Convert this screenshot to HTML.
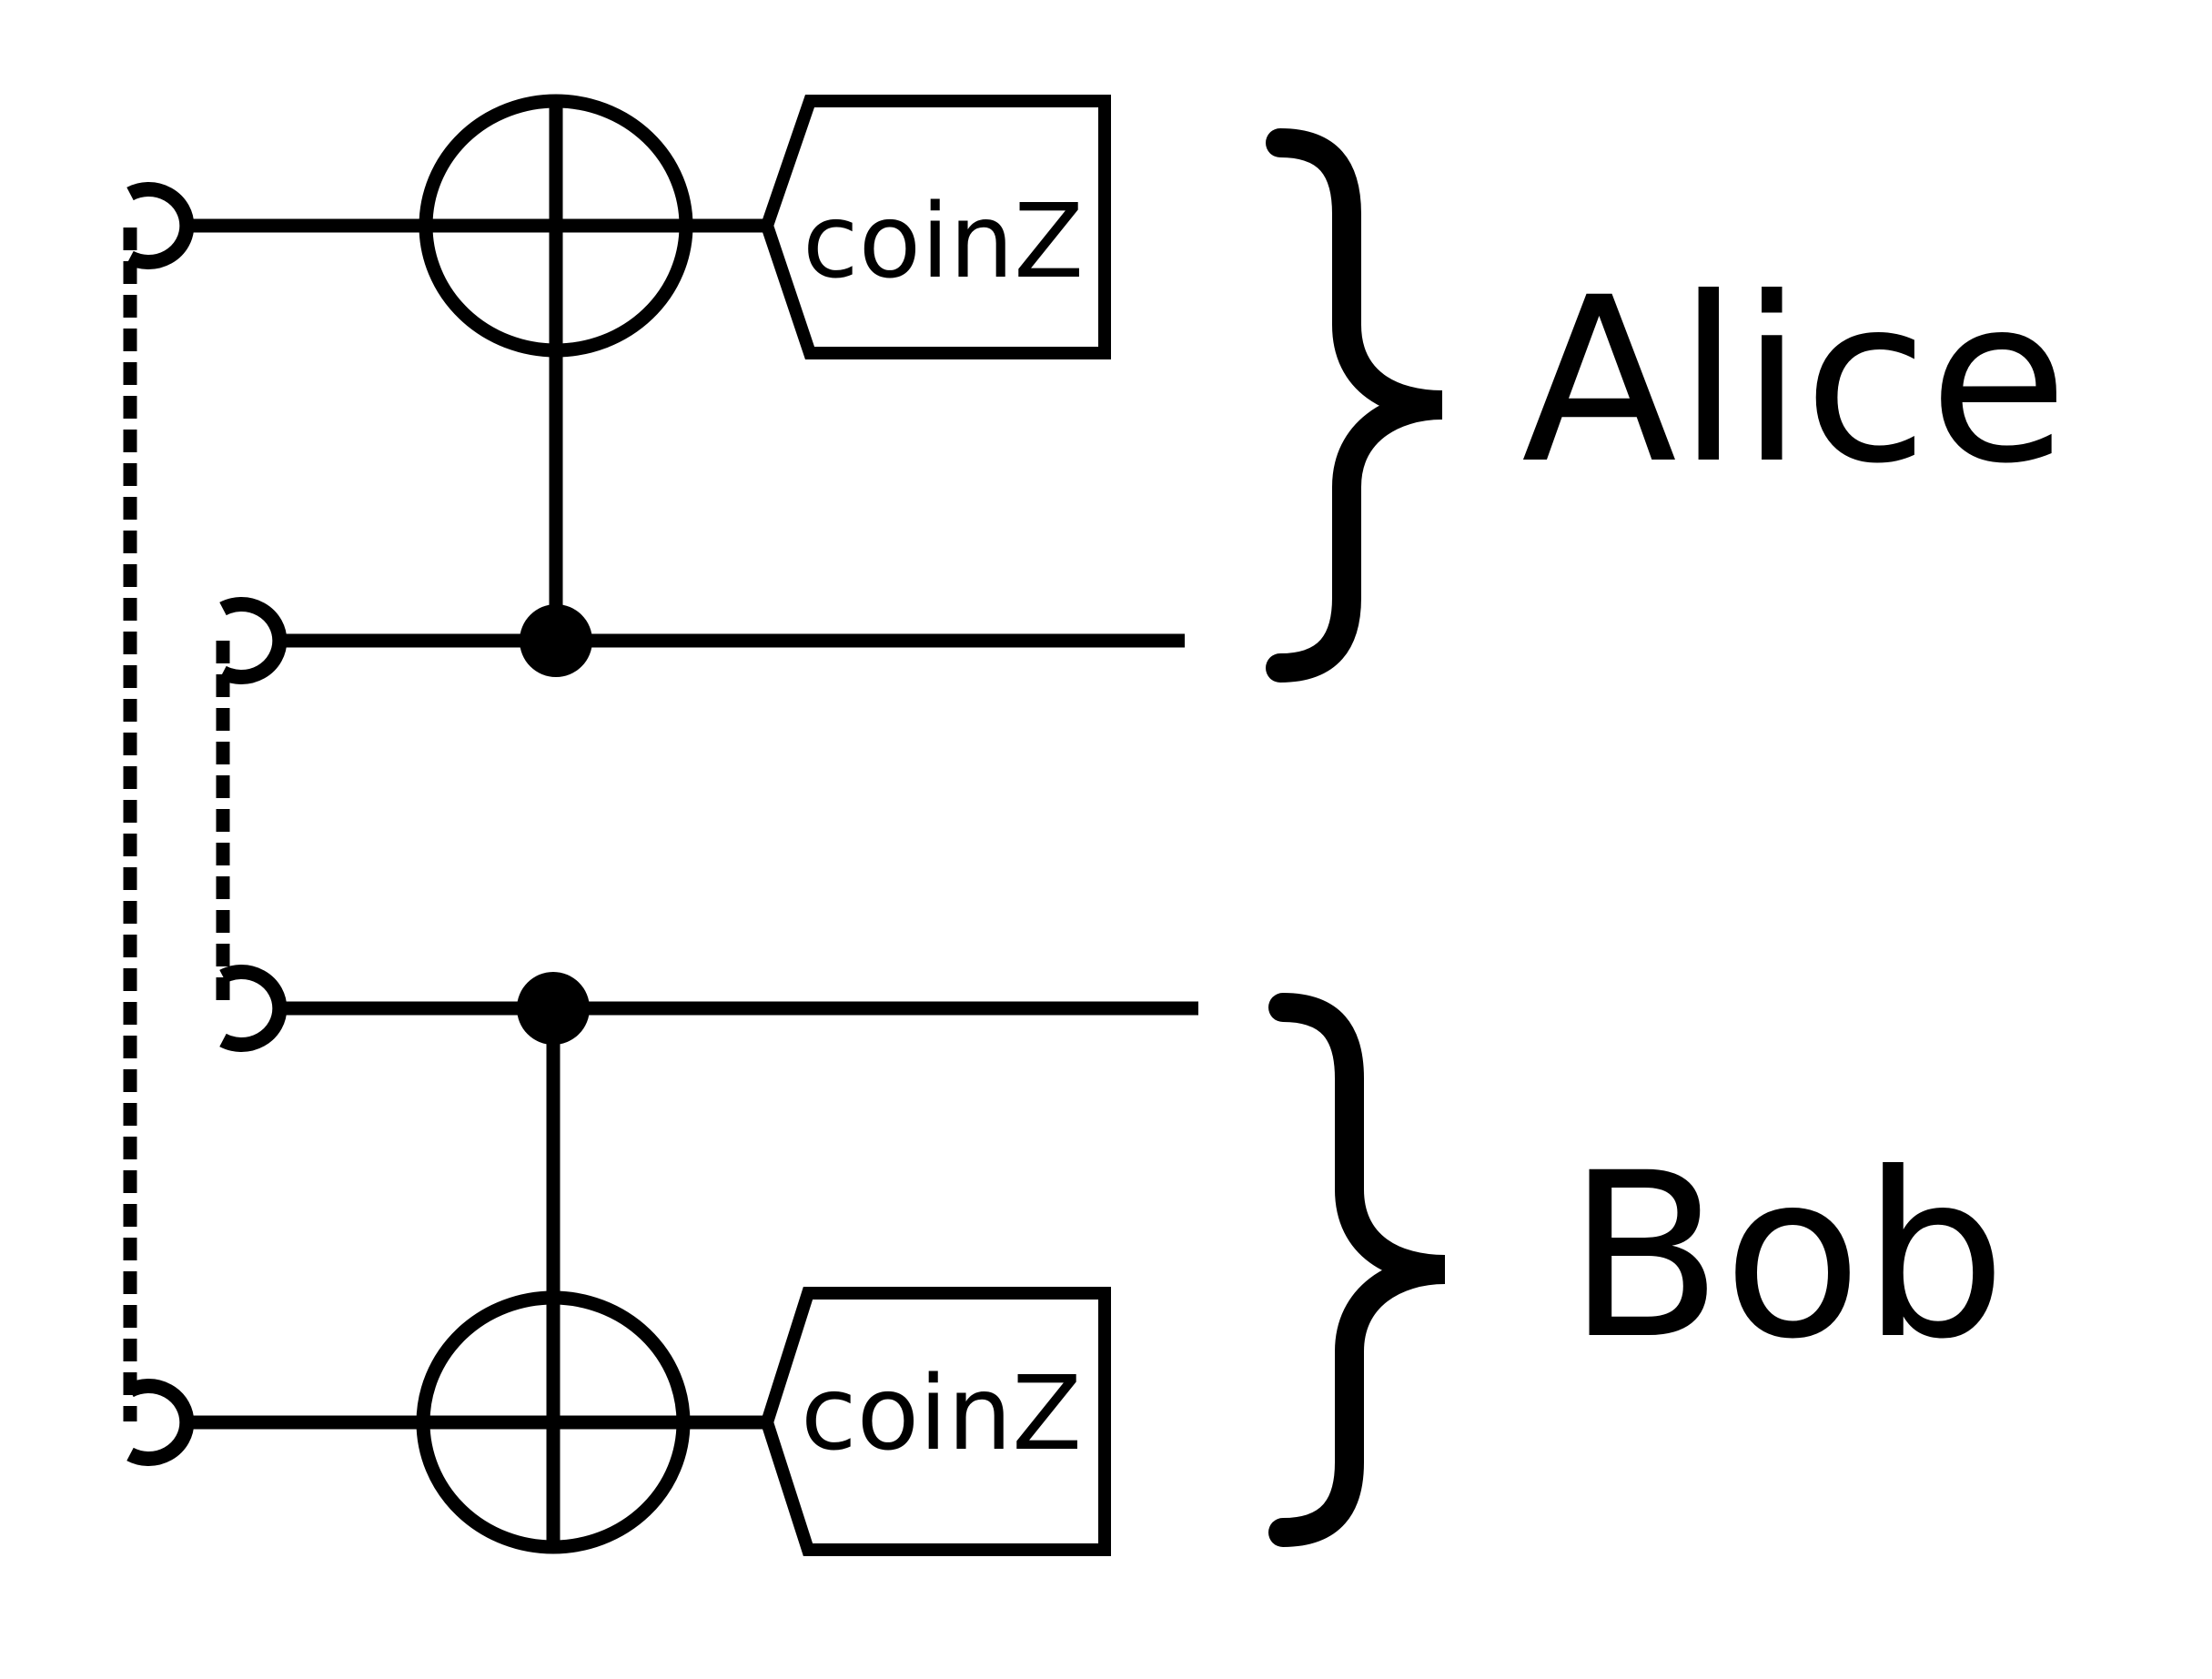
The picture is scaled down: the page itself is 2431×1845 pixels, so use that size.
<!DOCTYPE html>
<html><head><meta charset="utf-8"><style>
html,body{margin:0;padding:0;background:#fff;}
svg{display:block;}
text{font-family:"DejaVu Sans","Liberation Sans",sans-serif;fill:#000;}
</style></head><body>
<svg width="2431" height="1845" viewBox="0 0 2431 1845" xmlns="http://www.w3.org/2000/svg">
<g stroke="#000" fill="none" stroke-width="15">
  <line x1="208" y1="248" x2="843" y2="248"/>
  <line x1="308" y1="704" x2="1302" y2="704"/>
  <line x1="308" y1="1108" x2="1317" y2="1108"/>
  <line x1="204" y1="1563" x2="843" y2="1563"/>
  <ellipse cx="611" cy="248" rx="143" ry="137"/>
  <line x1="611" y1="111" x2="611" y2="704"/>
  <ellipse cx="608" cy="1563" rx="143" ry="137"/>
  <line x1="608" y1="1108" x2="608" y2="1700"/>
  <line x1="143" y1="250" x2="143" y2="1562" stroke-dasharray="25 12"/>
  <line x1="245" y1="704" x2="245" y2="1106" stroke-dasharray="25 12"/>
  <path d="M143 213 A42 40 0 1 1 143 283" stroke-width="16"/>
  <path d="M245 669 A42 40 0 1 1 245 739" stroke-width="16"/>
  <path d="M245 1073 A42 40 0 1 1 245 1143" stroke-width="16"/>
  <path d="M143 1528 A42 40 0 1 1 143 1598" stroke-width="16"/>
  <polygon points="843,248 890,111 1214,111 1214,388 890,388" stroke-width="14"/>
  <polygon points="843,1563 888,1421 1214,1421 1214,1703 888,1703" stroke-width="14"/>
  <path d="M1407 157 C1460 157 1480 185 1480 235 L1480 357 C1480 420 1530 445 1585 445 C1530 445 1480 475 1480 535 L1480 657 C1480 705 1460 734 1407 734" stroke-width="32" stroke-linecap="round"/>
  <path d="M1410 1107 C1463 1107 1483 1135 1483 1185 L1483 1307 C1483 1370 1533 1395 1588 1395 C1533 1395 1483 1425 1483 1485 L1483 1607 C1483 1655 1463 1684 1410 1684" stroke-width="32" stroke-linecap="round"/>
</g>
<circle cx="611" cy="704" r="40" fill="#000"/>
<circle cx="608" cy="1108" r="40" fill="#000"/>
<text x="882" y="304" font-size="112">coinZ</text>
<text x="880" y="1592" font-size="112">coinZ</text>
<text x="1672" y="505" font-size="250">Alice</text>
<text x="1722" y="1467" font-size="250">Bob</text>
</svg>
</body></html>
